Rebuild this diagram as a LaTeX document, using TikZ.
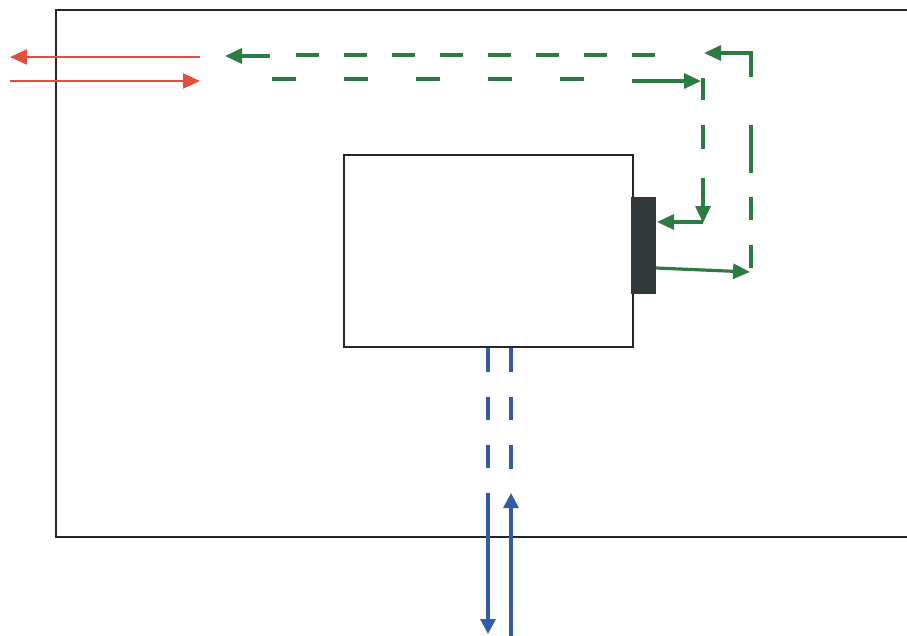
\documentclass[tikz,border=0pt]{standalone}
\usetikzlibrary{arrows.meta}
\definecolor{grn}{RGB}{44,122,68}
\definecolor{rd}{RGB}{226,78,60}
\definecolor{blu}{RGB}{52,92,166}
\definecolor{blk}{RGB}{50,56,58}
\begin{document}
\begin{tikzpicture}[x=1pt,y=-1pt,
  frame/.style={draw=black!85,line width=2pt},
  gline/.style={draw=grn,line width=3.2pt},
  garrow/.style={gline,-{Triangle[length=17pt,width=15pt]}},
  rarrow/.style={draw=rd,line width=2.2pt,-{Triangle[length=17pt,width=15pt]}},
  bline/.style={draw=blu,line width=3.2pt},
  barrow/.style={bline,-{Triangle[length=15pt,width=15pt]}}]
\useasboundingbox (0,0) rectangle (907,635);
% outer frame (right side beyond the picture)
\coordinate (otr) at (907,10);
\coordinate (obr) at (907,537);
\coordinate (otl) at (56,10);
\draw[frame] (otr) -- (otl) |- (obr);
% inner box and dark block
\node[frame,fill=white,minimum width=289pt,minimum height=192pt,anchor=north west,inner sep=0pt] (box) at (343,154) {};
\node[fill=blk,minimum width=25pt,minimum height=97pt,anchor=north west,inner sep=0pt] (blockk) at (631,197) {};
% red arrows
\coordinate (r1a) at (200,57); \coordinate (r1b) at (10,57);
\coordinate (r2a) at (10,81);  \coordinate (r2b) at (200,81);
\draw[rarrow] (r1a) -- (r1b);
\draw[rarrow] (r2a) -- (r2b);
% green outgoing path (upper)
\coordinate (g1) at (656,268); \coordinate (g2) at (750,272);
\draw[garrow] (g1) -- (g2);
\coordinate (g3) at (751,268); \coordinate (g4) at (751,53); \coordinate (g5) at (704,53);
\draw[garrow,dash pattern=on 23pt off 25pt on 23pt off 24pt on 48pt off 48pt on 300pt] (g3) -- (g4) -- (g5);
\coordinate (g6) at (655,55); \coordinate (g7) at (296,55);
\draw[gline,dash pattern=on 23pt off 25pt] (g6) -- (g7);
\coordinate (g8) at (270,56); \coordinate (g9) at (225,56);
\draw[garrow] (g8) -- (g9);
% green incoming path (lower)
\coordinate (h1) at (272,79); \coordinate (h2) at (584,79);
\draw[gline,dash pattern=on 24pt off 48pt] (h1) -- (h2);
\coordinate (h3) at (632,81); \coordinate (h4) at (701,81);
\draw[garrow] (h3) -- (h4);
\coordinate (h5) at (703,78); \coordinate (h6) at (703,223);
\draw[garrow,dash pattern=on 22pt off 25pt on 24pt off 29pt on 200pt] (h5) -- (h6);
\coordinate (h7) at (703,222); \coordinate (h8) at (657,222);
\draw[garrow] (h7) -- (h8);
% blue lines
\coordinate (b1) at (488,348); \coordinate (b2) at (488,634);
\draw[barrow,dash pattern=on 24pt off 25pt on 23pt off 25pt on 23pt off 25pt on 300pt] (b1) -- (b2);
\coordinate (b3) at (511,348); \coordinate (b4) at (511,469);
\draw[bline,dash pattern=on 24pt off 25pt on 23pt off 25pt] (b3) -- (b4);
\coordinate (b5) at (511,637); \coordinate (b6) at (511,493);
\draw[barrow] (b5) -- (b6);
\end{tikzpicture}
\end{document}
